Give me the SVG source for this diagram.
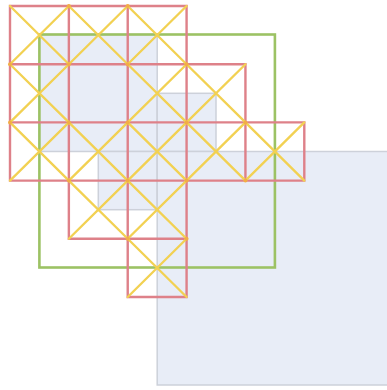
<svg xmlns="http://www.w3.org/2000/svg" width="387" height="390" viewBox="0 0 387 390">
  <style>
    .sq { fill: #e8edf7; stroke: #cdd1da; stroke-width: 1.5; }
    .green { fill: none; stroke: #9cc264; stroke-width: 2.6; }
    .red { fill: none; stroke: #de8189; stroke-width: 2.4; stroke-linecap: square; }
    .yel { fill: none; stroke: #f2d152; stroke-width: 2.3; stroke-linecap: round; }
    .dot { fill: #f2ad45; }
  </style>
  <rect width="387" height="390" fill="#ffffff"/>
  <g id="squares">
    <rect id="sq-a" class="sq" x="39.4" y="34.5" width="117.8" height="117"/>
    <rect id="sq-b" class="sq" x="157.2" y="93.3" width="58.8" height="58.2"/>
    <rect id="sq-c" class="sq" x="98.3" y="151.5" width="58.9" height="58.2"/>
    <rect id="sq-d" class="sq" x="157.2" y="151.5" width="236" height="233.5"/>
  </g>
  <g id="green-frame">
    <rect class="green" x="39.4" y="34.5" width="235.5" height="233"/>
  </g>
  <g id="red-grid">
    <path class="red" d="M10 6H186.58 M10 64.2H245.44 M10 122.4H304.3 M10 180.6H304.3 M68.86 238.8H186.58 M127.72 297H186.58 M10 6V180.6 M68.86 6V238.8 M127.72 6V297 M186.58 6V297 M245.44 64.2V180.6 M304.3 122.4V180.6"/>
  </g>
  <g id="diagonals">
    <path class="yel" d="M10 6L68.86 64.2 M68.86 6L10 64.2 M68.86 6L127.72 64.2 M127.72 6L68.86 64.2 M127.72 6L186.58 64.2 M186.58 6L127.72 64.2 M10 64.2L68.86 122.4 M68.86 64.2L10 122.4 M127.72 64.2L186.58 122.4 M186.58 64.2L127.72 122.4 M186.58 64.2L245.44 122.4 M245.44 64.2L186.58 122.4 M10 122.4L68.86 180.6 M68.86 122.4L10 180.6 M68.86 122.4L127.72 180.6 M127.72 122.4L68.86 180.6 M127.72 122.4L186.58 180.6 M186.58 122.4L127.72 180.6 M186.58 122.4L245.44 180.6 M245.44 122.4L186.58 180.6 M245.44 122.4L304.3 180.6 M304.3 122.4L245.44 180.6 M68.86 180.6L127.72 238.8 M127.72 180.6L68.86 238.8 M127.72 180.6L186.58 238.8 M186.58 180.6L127.72 238.8 M127.72 238.8L186.58 297 M186.58 238.8L127.72 297"/>
  </g>
  <g id="vertices">
    <circle class="dot" cx="68.86" cy="6" r="2"/>
    <circle class="dot" cx="127.72" cy="6" r="2"/>
    <circle class="dot" cx="10" cy="64.2" r="2"/>
    <circle class="dot" cx="68.86" cy="64.2" r="2"/>
    <circle class="dot" cx="127.72" cy="64.2" r="2"/>
    <circle class="dot" cx="186.58" cy="64.2" r="2"/>
    <circle class="dot" cx="10" cy="122.4" r="2"/>
    <circle class="dot" cx="68.86" cy="122.4" r="2"/>
    <circle class="dot" cx="127.72" cy="122.4" r="2"/>
    <circle class="dot" cx="186.58" cy="122.4" r="2"/>
    <circle class="dot" cx="245.44" cy="122.4" r="2"/>
    <circle class="dot" cx="68.86" cy="180.6" r="2"/>
    <circle class="dot" cx="127.72" cy="180.6" r="2"/>
    <circle class="dot" cx="186.58" cy="180.6" r="2"/>
    <circle class="dot" cx="245.44" cy="180.6" r="2"/>
    <circle class="dot" cx="127.72" cy="238.8" r="2"/>
    <circle class="dot" cx="186.58" cy="238.8" r="2"/>
  </g>
</svg>
